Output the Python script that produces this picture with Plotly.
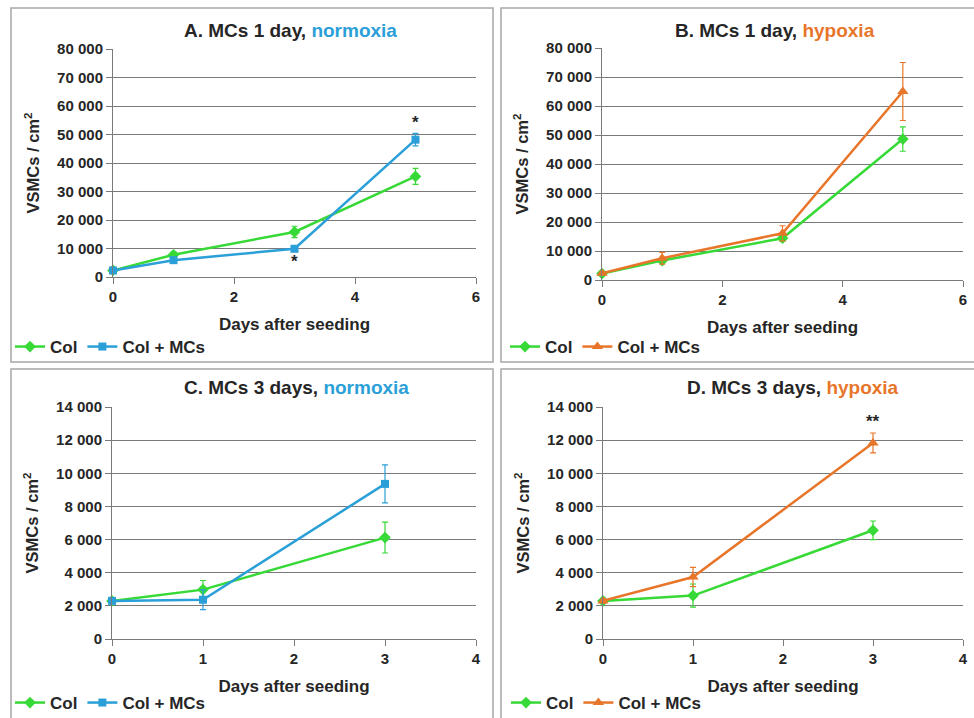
import plotly.graph_objects as go

# ---------------- data ----------------
days_1 = [0, 1, 3, 5]
days_3 = [0, 1, 3]

A_col = [2300, 7800, 15800, 35300]
A_col_err = [400, 1000, 2000, 2800]
A_mc = [2300, 5900, 9900, 48200]
A_mc_err = [400, 700, 700, 2200]

B_col = [2200, 6700, 14400, 48600]
B_col_err = [500, 800, 1000, 4200]
B_mc = [2300, 7500, 16100, 65000]
B_mc_err = [500, 2000, 2600, 10000]

C_col = [2300, 2980, 6120]
C_col_err = [150, 550, 930]
C_mc = [2300, 2370, 9360]
C_mc_err = [150, 600, 1150]

D_col = [2300, 2620, 6560]
D_col_err = [150, 700, 560]
D_mc = [2300, 3740, 11830]
D_mc_err = [150, 580, 600]

titles = ["A. MCs 1 day, ", "B. MCs 1 day, ", "C. MCs 3 days, ", "D. MCs 3 days, "]
conditions = ["normoxia", "hypoxia", "normoxia", "hypoxia"]
series_names = ["Col", "Col + MCs"]
x_title = "Days after seeding"
y_title = "VSMCs / cm<sup>2</sup>"

stars = [  # (panel, x, y, text)
    (0, 5, 54300, "*"),
    (0, 3, 5300, "*"),
    (3, 3, 13100, "**"),
]

# ---------------- style ----------------
GREEN = "#36d936"
BLUE = "#2a9fd8"
ORANGE = "#e8762a"
GRID = "#7a7a7a"
TXT = "#262626"
FONT = "Liberation Sans, Arial, sans-serif"
W, H = 974, 718

def px_x(v):
    return v / W

def px_y(v):
    return 1 - v / H

# plot-area pixel boxes: (x0, x1, ytop, ybottom)
boxes = [(113, 476, 49, 277), (602, 963, 48, 280), (112, 476, 407, 639), (603, 963, 407, 639)]
frames = [(11, 493, 8, 362), (501, 977, 8, 362), (11, 493, 369, 721), (501, 977, 369, 721)]
title_pos = [(290, 30), (775, 30), (296, 387), (793, 387)]
legend_pos = [(10, 347), (505, 347), (10, 703), (506, 703)]

panels = [
    (days_1, A_col, A_col_err, A_mc, A_mc_err, BLUE, "square", 8, [0, 6], 2, [0, 80000], 10000),
    (days_1, B_col, B_col_err, B_mc, B_mc_err, ORANGE, "triangle-up", 10, [0, 6], 2, [0, 80000], 10000),
    (days_3, C_col, C_col_err, C_mc, C_mc_err, BLUE, "square", 8, [0, 4], 1, [0, 14000], 2000),
    (days_3, D_col, D_col_err, D_mc, D_mc_err, ORANGE, "triangle-up", 10, [0, 4], 1, [0, 14000], 2000),
]

fig = go.Figure()
layout = {}
annotations = []
shapes = []

for i, (days, col, col_err, mc, mc_err, mcolor, msym, msize, xr, xd, yr, yd) in enumerate(panels):
    n = "" if i == 0 else str(i + 1)
    xa, ya = "x" + n, "y" + n
    leg = "legend" + n
    x0, x1, yt, yb = boxes[i]
    fig.add_trace(go.Scatter(
        x=days, y=col, name=series_names[0], mode="lines+markers",
        line=dict(color=GREEN, width=2.5),
        marker=dict(symbol="diamond", size=9, color=GREEN),
        error_y=dict(type="data", array=col_err, color=GREEN, thickness=1.2, width=3),
        xaxis=xa, yaxis=ya, legend=leg, cliponaxis=False))
    fig.add_trace(go.Scatter(
        x=days, y=mc, name=series_names[1], mode="lines+markers",
        line=dict(color=mcolor, width=2.5),
        marker=dict(symbol=msym, size=msize, color=mcolor),
        error_y=dict(type="data", array=mc_err, color=mcolor, thickness=1.2, width=3),
        xaxis=xa, yaxis=ya, legend=leg, cliponaxis=False))

    layout["xaxis" + n] = dict(
        domain=[px_x(x0), px_x(x1)], range=xr, dtick=xd, anchor=ya,
        showgrid=False, zeroline=False, showline=True, linecolor=GRID, linewidth=1,
        ticks="outside", ticklen=6, tickcolor=GRID,
        tickfont=dict(family=FONT, size=15, color=TXT, weight="bold"),
        title=dict(text="<b>" + x_title + "</b>", font=dict(family=FONT, size=17, color=TXT), standoff=14))
    layout["yaxis" + n] = dict(
        domain=[px_y(yb), px_y(yt)], range=yr, dtick=yd, anchor=xa,
        tickformat=",d", showgrid=True, gridcolor=GRID, gridwidth=1,
        zeroline=False, showline=True, linecolor=GRID, linewidth=1,
        ticks="outside", ticklen=6, tickcolor=GRID,
        tickfont=dict(family=FONT, size=15, color=TXT, weight="bold"),
        title=dict(text="<b>" + y_title + "</b>", font=dict(family=FONT, size=16.5, color=TXT), standoff=13))
    lx, ly = legend_pos[i]
    layout[leg] = dict(
        x=px_x(lx), y=px_y(ly), xanchor="left", yanchor="middle",
        orientation="h", bgcolor="rgba(0,0,0,0)", itemwidth=30, tracegroupgap=0,
        font=dict(family=FONT, size=17, color=TXT, weight="bold"))
    ccolor = BLUE if conditions[i] == "normoxia" else ORANGE
    tx, ty = title_pos[i]
    annotations.append(dict(
        x=px_x(tx), y=px_y(ty), xref="paper", yref="paper", xanchor="center", yanchor="middle",
        text="<b>" + titles[i] + "<span style='color:" + ccolor + "'>" + conditions[i] + "</span></b>",
        showarrow=False, font=dict(family=FONT, size=19, color=TXT)))
    fx0, fx1, fyt, fyb = frames[i]
    shapes.append(dict(type="rect", xref="paper", yref="paper",
                       x0=px_x(fx0), x1=px_x(fx1), y0=px_y(fyb), y1=px_y(fyt),
                       line=dict(color="#a6a6a6", width=1.5)))

for p, sx, sy, st in stars:
    n = "" if p == 0 else str(p + 1)
    annotations.append(dict(x=sx, y=sy, xref="x" + n, yref="y" + n, text="<b>" + st + "</b>",
                            showarrow=False, font=dict(family=FONT, size=17, color=TXT)))

fig.update_layout(
    width=W, height=H, margin=dict(l=0, r=0, t=0, b=0, autoexpand=False),
    paper_bgcolor="white", plot_bgcolor="white",
    separators=". ", showlegend=True,
    annotations=annotations, shapes=shapes, **layout)

fig.write_html("out.html")
